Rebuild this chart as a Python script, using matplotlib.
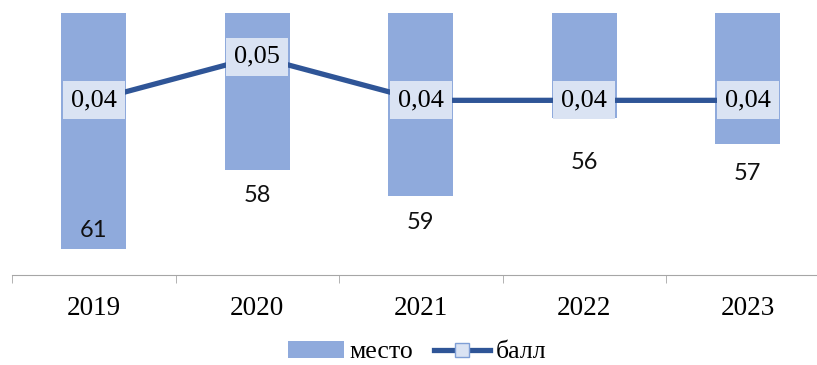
import matplotlib
matplotlib.use("Agg")
import matplotlib.pyplot as plt
from matplotlib.patches import Patch
from matplotlib.lines import Line2D

years = ["2019", "2020", "2021", "2022", "2023"]
mesto = [61, 58, 59, 56, 57]
ball = [0.04, 0.05, 0.04, 0.04, 0.04]

bar_color = "#8FAADC"
line_color = "#2F5597"
box_color = "#DAE3F3"
serif = "Liberation Serif"
sans = "Lato"

fig = plt.figure(figsize=(8.17, 3.65), dpi=100)
W, H = 817, 365
ax = fig.add_axes([12 / W, 90 / H, 817.5 / W, 262 / H])

x = list(range(len(years)))
base = 52
ax.bar(x, [v - base for v in mesto], bottom=base, width=0.40, color=bar_color, zorder=2)
ax.set_ylim(62, base)
ax.set_xlim(-0.5, 4.5)

# bar value labels (offset in points below bar end)
offsets = [-13, 18, 19, 32, 21]
for i, v in enumerate(mesto):
    ax.annotate(str(v), (i, v), xytext=(0, -offsets[i]), textcoords="offset points",
                ha="center", va="center", fontsize=17, family=sans, color="#111111")

for s in ["left", "right", "top"]:
    ax.spines[s].set_visible(False)
ax.spines["bottom"].set_color("#A6A6A6")
ax.set_yticks([])
ax.set_xticks(x)
ax.set_xticklabels(years, family=serif, fontsize=19.5)
ax.tick_params(axis="x", which="major", length=0, pad=15)
ax.set_xticks([i - 0.5 for i in range(len(years) + 1)], minor=True)
ax.tick_params(axis="x", which="minor", length=6, color="#A6A6A6")

ax2 = ax.twinx()
ax2.set_ylim(0, 0.06)
ax2.axis("off")
ax2.plot(x, ball, color=line_color, lw=3.8, zorder=3, solid_capstyle="butt")
for i, v in enumerate(ball):
    ax2.text(i, v, f"{v:.2f}".replace(".", ","), ha="center", va="center",
             fontsize=19, family=serif, zorder=4,
             bbox=dict(boxstyle="square,pad=0.3", fc=box_color, ec="none"))

handles = [Patch(facecolor=bar_color, edgecolor="none"),
           Line2D([0], [0], color=line_color, lw=3.8, marker="s", markersize=10,
                  markerfacecolor=box_color, markeredgecolor="#7F9FD6", markeredgewidth=1)]
fig.legend(handles, ["место", "балл"], loc="center", bbox_to_anchor=(417 / W, 1 - 352 / H),
           ncol=2, frameon=False, prop={"family": serif, "size": 18.5},
           handlelength=2.2, handletextpad=0.2, columnspacing=0.8, handleheight=0.7)

fig.savefig("out.png", dpi=100)
